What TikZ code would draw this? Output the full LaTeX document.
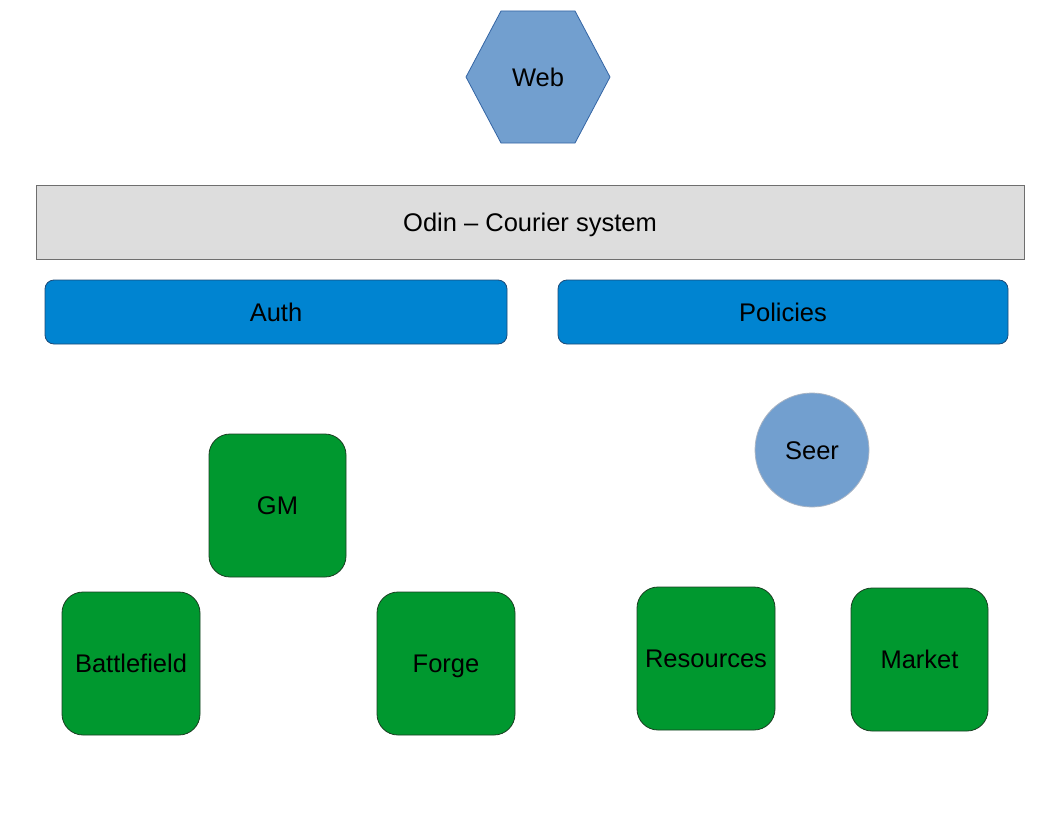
\documentclass[tikz,border=0pt]{standalone}
\usepackage{fontspec}
\setmainfont{Liberation Sans}
\definecolor{webblue}{HTML}{729FCF}
\definecolor{webedge}{HTML}{3465A4}
\definecolor{seeredge}{HTML}{A9B4C4}
\definecolor{bargray}{HTML}{DDDDDD}
\definecolor{baredge}{HTML}{6E6E6E}
\definecolor{svcblue}{HTML}{0084D1}
\definecolor{svcedge}{HTML}{1C4A78}
\definecolor{modgreen}{HTML}{00982F}
\definecolor{modedge}{HTML}{1A3F22}
\begin{document}
\begin{tikzpicture}[x=1pt,y=-1pt,
  every node/.style={font=\fontsize{25.5}{30}\selectfont, inner sep=0pt, text=black, text height=18.3pt, text depth=0pt},
  barbox/.style={draw=baredge, fill=bargray, line width=0.8pt, minimum width=988pt, minimum height=74pt},
  svcbox/.style={draw=svcedge, fill=svcblue, line width=0.8pt, rounded corners=9pt, minimum height=64pt},
  modbox/.style={draw=modedge, fill=modgreen, line width=0.8pt, rounded corners=21pt, minimum width=138pt, minimum height=143pt},
  seercirc/.style={draw=seeredge, fill=webblue, line width=0.8pt, circle, minimum size=114pt}
]
\useasboundingbox (0,0) rectangle (1056,816);
% Web hexagon
\draw[draw=webedge, fill=webblue, line width=0.8pt]
  (466,77) -- (501,11) -- (575,11) -- (610,77) -- (575,143) -- (501,143) -- cycle;
\node (web) at (538,77) {Web};
% Odin bar
\node[barbox] (odin) at (530,222) {Odin – Courier system};
% Services
\node[svcbox, minimum width=462pt] (auth) at (276,312) {Auth};
\node[svcbox, minimum width=450pt] (policies) at (783,312) {Policies};
% Seer
\node[seercirc] (seer) at (812,450) {Seer};
% Modules
\node[modbox, minimum width=137pt] (gm) at (277.5,505.5) {GM};
\node[modbox] (battlefield) at (131,663.5) {Battlefield};
\node[modbox] (forge) at (446,663.5) {Forge};
\node[modbox] (resources) at (706,658.5) {Resources};
\node[modbox, minimum width=137pt] (market) at (919.5,659.5) {Market};
\end{tikzpicture}
\end{document}
